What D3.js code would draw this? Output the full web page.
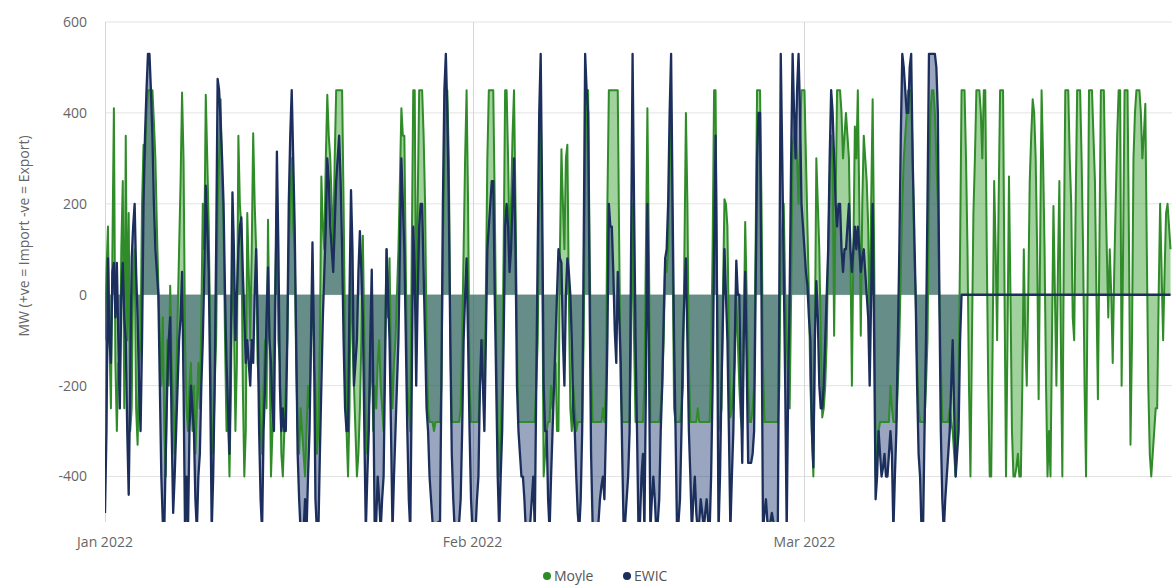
<!DOCTYPE html>
<html><head><meta charset="utf-8">
<script src="https://cdn.jsdelivr.net/npm/d3@7"></script>
<style>body{margin:0;background:#fff} text{font-family:"Open Sans","Noto Sans",sans-serif}</style>
</head><body><svg id="c" width="1172" height="585"></svg>
<script>
// ---- data (3-hourly readings from Jan 1 2022) ----
const stepHours = 3;
const seriesNames = ["Moyle", "EWIC"];
const yTicks = [-400, -200, 0, 200, 400, 600];
const xTickDates = ["2022-01-01", "2022-02-01", "2022-03-01"];
const xTickLabels = ["Jan 2022", "Feb 2022", "Mar 2022"];
const moyle = [
 -100,50,150,-100,-250,100,410,-150, -300,-150,-200,100,250,-250,350,-100,
 180,-300,-250,50,100,-250,-330,-150, -100,200,330,300,400,450,450,450,
 450,380,300,150,20,-100,-200,-50, -300,-400,-100,-200,20,-150,-250,-350,
 -200,-50,100,250,445,300,-100,-250, -300,-200,-150,-300,-200,-350,-250,-150,
 -250,-50,200,100,440,300,150,-100, -300,-350,-200,-100,200,300,430,250,
 150,-100,-300,-250,-400,-200,100,-50, -300,-150,350,200,150,-200,-400,-300,
 180,50,-100,100,355,200,100,-150, -200,-300,-350,-200,-100,-250,165,-100,
 -400,-300,-100,50,200,-100,-150,-350, -400,-300,-200,-100,100,200,300,150,
 100,-150,-300,-350,-250,-300,-350,-400, -300,-200,-250,-100,50,-150,-200,-350,
 -300,-100,260,150,100,300,440,350, 300,200,100,300,450,450,450,450,
 450,200,-100,-300,-400,-250,150,-100, -200,-300,-400,-350,-250,-100,130,-100,
 -300,-350,-250,-200,-100,-300,-200,-250,-150,-100,
 -200,-250,-300,-100,100,-50,80,-150, -250,-150,-100,0,100,250,410,350,
 350,50,-200,-250,-300,100,450,450, -100,200,450,450,450,350,200,-100,
 -250,-280,-280,-280,-300,-280,-280,-280, -280,-200,100,300,450,450,300,-100,
 -280,-280,-280,-280,-280,-280,-250,-100, 100,300,450,200,-200,-280,-280,-280,
 -280,-280,-280,-200,-150,-100,-250,0, 300,450,450,450,450,200,-100,-300,
 -400,-300,-200,100,450,450,300,100, 200,350,450,200,-100,-280,-280,-280,
 -280,-280,-280,-280,-280,-280,-280,-280, -280,-200,-100,200,450,100,-400,-350,
 -300,-280,-280,-200,-250,-200,-150,-300, -300,100,320,200,100,300,330,0,
 -250,-300,-200,-250,-300,-280,-280,-280, -280,-100,300,450,450,100,-150,-280,
 -280,-280,-280,-280,-280,-280,-250,-280, -200,200,450,450,450,450,450,450,
 450,100,-200,-280,-280,-280,-280,-280,
 -280,-100,200,-100,-280,-280,-280,-280,-280,-280,
 -200,100,410,100,-280,-280,-280,-280, -280,-280,-280,-250,-200,-100,80,50,
 100,300,400,100,-250,-280,-280,-280, -280,-250,-200,100,400,200,-150,-280,
 -280,-280,-280,-280,-250,-280,-280,-280, -280,-280,-280,-280,-280,-150,100,450,
 450,0,-300,-280,-250,0,210,200, 150,-100,-270,-250,-200,-150,0,-100,
 -200,-270,-300,-100,160,0,-200,-280, -280,-250,-200,100,450,450,450,200,
 -150,-280,-280,-280,-280,-280,-280,-280, -280,-280,-280,-200,100,150,200,0,
 -100,-200,-250,0,330,350,400,300, 200,350,450,450,450,300,150,0,
 -200,-300,-400,-100,300,200,100,-100, -270,-250,-200,-100,100,250,350,300,
 -90,200,450,450,450,400,300,350, 400,350,300,100,-200,100,370,300,
 450,200,-90,200,350,300,250,150, -100,200,430,100,-400,-350,-300,-280,
 -280,-280,-280,-280,-280,-280,-200,-250,
 -280,-280,-280,-200,-100,50,200,300,350,400,
 450,450,450,300,100,0,-150,-250, -280,-280,-280,-280,-200,-100,200,400,
 450,450,400,300,200,0,-150,-280, -280,-280,-280,-280,-250,-280,-300,-350,
 -400,-300,-200,100,450,450,450,300, 100,-200,-400,-100,180,300,450,450,
 450,400,300,450,450,100,-200,-400, -400,-100,250,100,-100,200,450,450,
 450,0,-400,-100,260,0,-300,-400, -400,-380,-350,-400,-400,-200,100,-100,
 -200,0,250,350,430,400,300,100, -230,100,450,300,100,-200,-400,-300,
 -400,-100,195,0,-200,50,250,-100, -400,100,450,450,450,300,200,-50,
 -100,200,450,450,450,300,100,-200, -400,0,450,450,450,350,250,0,
 -230,100,450,450,450,250,100,-50, 100,0,-150,50,200,350,450,450,
 -200,100,450,450,450,100,-330,-100, 300,400,450,450,450,400,300,350,
 420,100,-200,-350,-400,-350,-300,-250, -250,0,200,50,-100,50,180,200,150,100
];
const ewic = [
 -480,-300,80,-100,-150,50,70,-50, 70,-100,-250,0,70,-50,-100,-300,
 -440,-200,80,150,200,50,-50,-200, -300,-100,200,350,450,530,530,450,
 350,200,100,50,0,-200,-400,-500, -520,-350,-200,-100,-50,-300,-480,-400,
 -300,-200,-100,-50,50,-200,-520,-400, -520,-300,-200,-250,-300,-450,-520,-400,
 -350,-200,-100,50,240,150,50,-200, -520,-400,-200,100,475,450,380,300,
 200,0,-150,-250,-350,-100,225,100, -100,0,100,150,170,50,-50,-150,
 -100,-150,-200,-100,-150,0,100,-50, -300,-450,-520,-300,-200,-50,60,-100,
 -150,-250,-300,0,315,100,-200,-300, -250,-300,-300,-100,200,350,450,300,
 150,-100,-350,-450,-520,-520,-520,-450, -520,-400,-300,-100,115,-100,-450,-520,
 -520,-350,-200,-50,50,150,300,250, 150,100,50,150,250,300,350,250,
 100,-100,-250,-300,-300,0,230,100, -200,-150,-100,50,140,50,-50,-300,
 -520,-400,-300,-100,55,-200,-520,-500,-400,-450,
 -520,-450,-400,-150,100,0,-100,-300, -520,-400,-300,-200,-100,100,300,200,
 100,-100,-300,-450,-520,-200,150,50, -200,0,150,200,200,50,-100,-250,
 -300,-400,-450,-500,-520,-520,-520,-500, -520,-200,200,450,530,400,200,-100,
 -350,-450,-520,-520,-520,-500,-450,-300, -100,0,80,-100,-300,-450,-520,-520,
 -520,-450,-400,-200,-100,-200,-300,-100, 100,150,200,250,250,0,-200,-400,
 -520,-400,-300,-100,150,200,150,50, 100,200,300,100,-200,-300,-350,-400,
 -400,-450,-520,-520,-520,-500,-450,-400, -520,-200,100,400,530,200,-200,-300,
 -300,-450,-520,-400,-300,-200,-100,0, 100,80,70,-100,-200,0,80,50,
 0,-100,-250,-300,-400,-480,-520,-450, -300,100,530,450,400,0,-350,-500,
 -520,-520,-520,-500,-450,-420,-400,-450, -300,-100,200,150,150,50,-80,-150,
 50,-50,-150,-350,-520,-500,-450,-400,
 -300,100,530,200,-100,-300,-520,-500,-400,-350,
 -520,-200,200,-100,-520,-450,-400,-450, -520,-500,-450,-300,-200,-50,80,100,
 200,400,530,200,-100,-300,-520,-500, -450,-300,-100,0,80,-100,-300,-400,
 -520,-450,-400,-480,-520,-500,-450,-480, -520,-480,-450,-500,-520,-400,-200,100,
 350,0,-520,-400,-200,-50,100,0, -100,-300,-520,-400,-300,-100,75,0,
 0,-200,-370,-100,50,-150,-370,-370, -370,-350,-300,0,300,400,400,0,
 -520,-480,-450,-500,-520,-500,-480,-500, -520,-520,-520,0,530,300,50,-200,
 -520,-200,0,300,530,400,300,450, 530,400,200,150,100,50,20,-50,
 -100,-300,-380,-100,30,-50,-200,-250, -250,-200,-100,0,100,300,450,400,
 300,200,150,200,200,100,50,100, 100,150,200,100,50,100,150,100,
 150,100,50,80,100,50,0,-50, -200,0,200,-100,-450,-400,-300,-350,
 -400,-380,-350,-400,-400,-350,-300,-350,
 -520,-400,-300,-100,100,350,530,500,450,400,
 400,500,530,300,150,0,-200,-350, -400,-520,-520,-300,-100,200,530,530,
 530,530,530,500,400,0,-300,-450, -520,-450,-400,-350,-300,-200,-100,-250,
 -400,-350,-300,-100,0,0,0,0,
 0,0,0,0,0,0,0,0, 0,0,0,0,0,0,0,0,
 0,0,0,0,0,0,0,0, 0,0,0,0,0,0,0,0,
 0,0,0,0,0,0,0,0, 0,0,0,0,0,0,0,0,
 0,0,0,0,0,0,0,0, 0,0,0,0,0,0,0,0,
 0,0,0,0,0,0,0,0, 0,0,0,0,0,0,0,0,
 0,0,0,0,0,0,0,0, 0,0,0,0,0,0,0,0,
 0,0,0,0,0,0,0,0, 0,0,0,0,0,0,0,0,
 0,0,0,0,0,0,0,0, 0,0,0,0,0,0,0,0,
 0,0,0,0,0,0,0,0, 0,0
];

// ---- chart ----
const W = 1172, H = 585;
const m = {left: 105, right: 0, top: 22, bottom: 63};
const svg = d3.select("#c");
const parse = d3.timeParse("%Y-%m-%d");
const t0 = new Date(2022, 0, 1);
const t1 = new Date(2022, 3, 1);
const x = d3.scaleTime().domain([t0, t1]).range([m.left, W - m.right]);
const y = d3.scaleLinear().domain([-500, 600]).range([H - m.bottom, m.top]);
const colors = {Moyle: {line: "#2f8c29", fill: "#43a33a"}, EWIC: {line: "#1b2e5c", fill: "#1f3a70"}};

const g = svg.append("g");
g.selectAll("line.hg").data(yTicks).join("line")
  .attr("x1", x.range()[0]).attr("x2", x.range()[1])
  .attr("y1", d => y(d)).attr("y2", d => y(d))
  .attr("stroke", "#e3e3e3").attr("stroke-width", 1);
const tickDates = xTickDates.map(parse);
g.selectAll("line.vg").data(tickDates).join("line")
  .attr("x1", d => Math.round(x(d)) + 0.5).attr("x2", d => Math.round(x(d)) + 0.5)
  .attr("y1", y.range()[1]).attr("y2", y.range()[0])
  .attr("stroke", "#d6d6d6").attr("stroke-width", 1);

g.selectAll("text.yt").data(yTicks).join("text")
  .attr("x", 87).attr("y", d => y(d)).attr("dy", "0.35em")
  .attr("text-anchor", "end").attr("font-size", 14).attr("fill", "#666")
  .text(d => d);
g.selectAll("text.xt").data(tickDates).join("text")
  .attr("x", d => x(d)).attr("y", 547)
  .attr("text-anchor", "middle").attr("font-size", 14).attr("fill", "#666")
  .text((d, i) => xTickLabels[i]);
svg.append("text")
  .attr("transform", "translate(29,236) rotate(-90)")
  .attr("text-anchor", "middle").attr("font-size", 14).attr("fill", "#666")
  .text("MW (+ve = Import -ve = Export)");

svg.append("clipPath").attr("id", "clip").append("rect")
  .attr("x", m.left).attr("y", m.top).attr("width", W - m.left - m.right).attr("height", y(-500) - m.top);

const mk = arr => arr.map((v, i) => ({t: d3.timeHour.offset(t0, i * stepHours), v}));
const data = {Moyle: mk(moyle), EWIC: mk(ewic)};
const area = d3.area().x(d => x(d.t)).y0(y(0)).y1(d => y(d.v));
const line = d3.line().x(d => x(d.t)).y(d => y(d.v));

const plot = svg.append("g").attr("clip-path", "url(#clip)");
seriesNames.forEach(n => {
  plot.append("path").datum(data[n]).attr("d", area)
    .attr("fill", colors[n].fill).attr("fill-opacity", n === "Moyle" ? 0.5 : 0.45);
});
seriesNames.forEach(n => {
  plot.append("path").datum(data[n]).attr("d", line)
    .attr("fill", "none").attr("stroke", colors[n].line)
    .attr("stroke-width", n === "Moyle" ? 2 : 2.3)
    .attr("stroke-linejoin", "round");
});

const leg = svg.append("g");
const legItems = [{n: "Moyle", x: 547}, {n: "EWIC", x: 627}];
legItems.forEach(it => {
  leg.append("circle").attr("cx", it.x).attr("cy", 576).attr("r", 4).attr("fill", colors[it.n].line);
  leg.append("text").attr("x", it.x + 7).attr("y", 581).attr("font-size", 14).attr("fill", "#555").text(it.n);
});
</script></body></html>
